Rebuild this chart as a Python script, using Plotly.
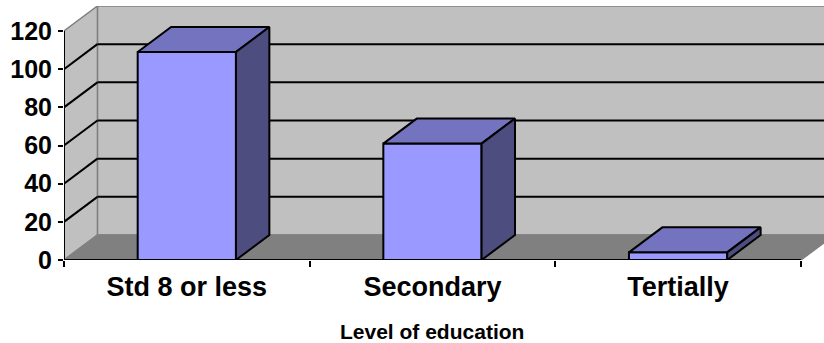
import plotly.graph_objects as go

categories = ["Std 8 or less", "Secondary", "Tertially"]
values = [109, 61, 4]
y_ticks = [0, 20, 40, 60, 80, 100, 120]
x_title = "Level of education"

# pseudo-3D depth (data units)
DX = 0.136
DY = 13.1
BW = 0.4
XMIN, XMAX = -0.5, 2.594
YMAX = 120 + DY

FRONT = "#9999FF"
TOP = "#7373BF"
SIDE = "#4D4D80"
WALL = "#C0C0C0"
FLOOR = "#808080"
EDGE = "#808080"

xs = list(range(len(categories)))
n = len(categories)
xl, xr = -0.5, n - 0.5

shapes = []
def poly(pts, fill, color, width, layer="below"):
    path = "M " + " L ".join(f"{x},{y}" for x, y in pts) + " Z"
    shapes.append(dict(type="path", path=path, xref="x", yref="y",
                       fillcolor=fill, line=dict(color=color, width=width), layer=layer))

# back wall
poly([(xl + DX, DY), (XMAX + 0.2, DY), (XMAX + 0.2, 120 + DY), (xl + DX, 120 + DY)], WALL, EDGE, 1.5)
# left side wall
poly([(xl, 0), (xl + DX, DY), (xl + DX, 120 + DY), (xl, 120)], WALL, EDGE, 1.5)
# floor
poly([(xl, 0), (xr, 0), (xr + DX, DY), (xl + DX, DY)], FLOOR, EDGE, 1.5)
# gridlines
for v in y_ticks[1:-1]:
    shapes.append(dict(type="line", xref="x", yref="y", x0=xl, y0=v, x1=xl + DX, y1=v + DY,
                       line=dict(color="black", width=2), layer="below"))
    shapes.append(dict(type="line", xref="x", yref="y", x0=xl + DX, y0=v + DY, x1=XMAX + 0.2, y1=v + DY,
                       line=dict(color="black", width=2), layer="below"))
# front axis lines
shapes.append(dict(type="line", xref="x", yref="y", x0=xl, y0=0, x1=xl, y1=120,
                   line=dict(color="black", width=2), layer="above"))
shapes.append(dict(type="line", xref="x", yref="y", x0=xl, y0=0, x1=xr, y1=0,
                   line=dict(color="black", width=2), layer="above"))

fig = go.Figure()
# front faces
fig.add_trace(go.Bar(x=xs, y=values, width=BW, marker=dict(color=FRONT, line=dict(color="black", width=2)),
                     showlegend=False, hoverinfo="skip"))
# top and side faces
for x, v in zip(xs, values):
    a, b = x - BW / 2, x + BW / 2
    fig.add_trace(go.Scatter(x=[a, b, b + DX, a + DX, a], y=[v, v, v + DY, v + DY, v],
                             fill="toself", fillcolor=TOP, mode="lines",
                             line=dict(color="black", width=2), showlegend=False, hoverinfo="skip"))
    fig.add_trace(go.Scatter(x=[b, b + DX, b + DX, b, b], y=[0, DY, v + DY, v, 0],
                             fill="toself", fillcolor=SIDE, mode="lines",
                             line=dict(color="black", width=2), showlegend=False, hoverinfo="skip"))

font_family = "Liberation Sans, Arial, sans-serif"
fig.update_layout(
    width=824, height=343,
    margin=dict(l=64, r=0, t=6, b=83),
    paper_bgcolor="white", plot_bgcolor="white",
    shapes=shapes,
    font=dict(family=font_family, color="black"),
    xaxis=dict(range=[XMIN, XMAX], tickvals=xs, ticktext=categories, ticks="",
               showgrid=False, zeroline=False, showline=False,
               tickfont=dict(size=27, weight="bold", family=font_family),
               minor=dict(tickvals=[xl + i for i in range(n + 1)], ticks="outside", ticklen=6,
                          tickwidth=2, tickcolor="black", showgrid=False),
               ticklabelstandoff=8),
    yaxis=dict(range=[0, YMAX], tickvals=y_ticks, ticks="outside", ticklen=5, tickwidth=2,
               tickcolor="black", showgrid=False, zeroline=False, showline=False,
               tickfont=dict(size=25, weight="bold", family=font_family), ticklabelstandoff=1),
    annotations=[dict(text=x_title, xref="x", yref="paper", x=(xl + xr) / 2, y=-(331 - 260) / 254,
                      yanchor="middle", xanchor="center", showarrow=False,
                      font=dict(size=21, weight="bold", family=font_family))],
)

fig.write_html("out.html")
